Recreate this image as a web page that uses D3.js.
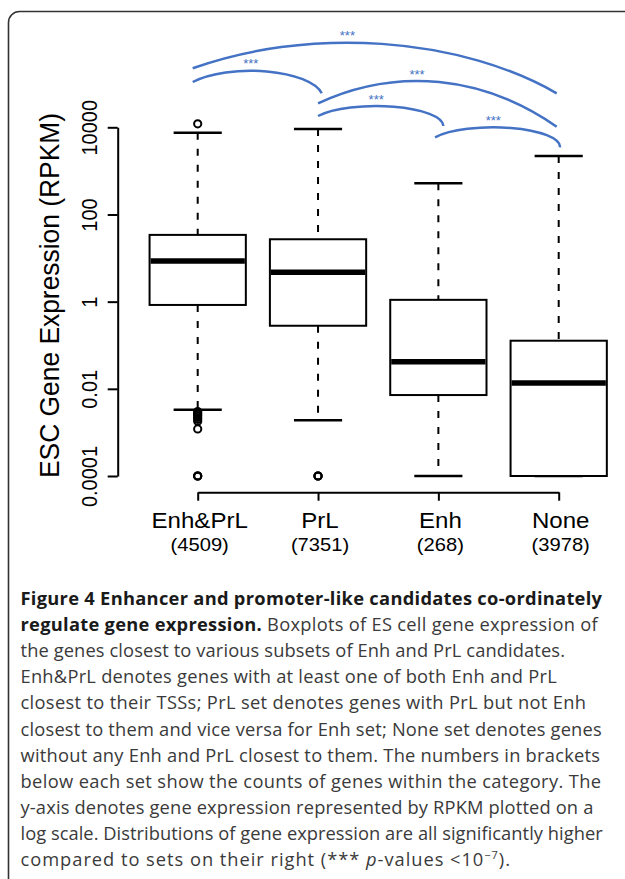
<!DOCTYPE html>
<meta charset="utf-8">
<title>Figure 4</title>
<style>

body {
  margin: 0;
  background: #fff;
}

svg {
  display: block;
}

.axis path,
.axis line {
  stroke: #000;
  stroke-width: 2px;
}

.whisker {
  stroke: #000;
  stroke-width: 2px;
  stroke-dasharray: 7,9;
}

.cap {
  stroke: #000;
  stroke-width: 2.5px;
}

.box {
  fill: #fff;
  stroke: #000;
  stroke-width: 2px;
}

.median {
  stroke: #000;
  stroke-width: 5.5px;
}

.outlier {
  fill: none;
  stroke: #000;
  stroke-width: 2px;
}

.bracket {
  fill: none;
  stroke: #4472c4;
  stroke-width: 2.5px;
}

.stars {
  fill: #4472c4;
  font: 13px "Liberation Sans", Arial, sans-serif;
  text-anchor: middle;
}

.caption {
  font-family: "Open Sans", sans-serif;
  font-size: 18.3px;
  fill: #3a3a3a;
}

.caption .bold {
  font-weight: bold;
  fill: #1a1a1a;
}

</style>
<svg width="625" height="879"></svg>
<script src="https://d3js.org/d3.v7.min.js"></script>
<script>

// gene sets and box statistics (RPKM)
var categories = ["Enh&PrL", "PrL", "Enh", "None"];
var geneCounts = [4509, 7351, 268, 3978];
var whiskerHigh = [7500, 9100, 520, 2200];
var upperQuartile = [34, 27, 1.1, 0.127];
var medians = [8.6, 4.7, 0.042, 0.0136];
var lowerQuartile = [0.84, 0.28, 0.0072, 0.0001];
var whiskerLow = [0.0033, 0.0019, 0.0001, 0.0001];
var outliers = [
  [12000, 0.0030, 0.0028, 0.0026, 0.0024, 0.0022, 0.0020, 0.0018, 0.0012, 0.0001, 0.0001, 0.0001],
  [0.0001, 0.0001, 0.0001],
  [],
  []
];

var yTicks = [0.0001, 0.01, 1, 100, 10000];
var yTickLabels = ["0.0001", "0.01", "1", "100", "10000"];
var yTitle = "ESC Gene Expression (RPKM)";

// significance brackets between sets
var comparisons = [["Enh&PrL", "None"], ["Enh&PrL", "PrL"], ["PrL", "None"], ["PrL", "Enh"], ["Enh", "None"]];
var sigLabels = ["***", "***", "***", "***", "***"];

var captionLines = [
  [["Figure 4 Enhancer and promoter-like candidates co-ordinately", "bold"]],
  [["regulate gene expression.", "bold"], [" Boxplots of ES cell gene expression of"]],
  [["the genes closest to various subsets of Enh and PrL candidates."]],
  [["Enh&PrL denotes genes with at least one of both Enh and PrL"]],
  [["closest to their TSSs; PrL set denotes genes with PrL but not Enh"]],
  [["closest to them and vice versa for Enh set; None set denotes genes"]],
  [["without any Enh and PrL closest to them. The numbers in brackets"]],
  [["below each set show the counts of genes within the category. The"]],
  [["y-axis denotes gene expression represented by RPKM plotted on a"]],
  [["log scale. Distributions of gene expression are all significantly higher"]],
  [["compared to sets on their right (*** "], ["p", "italic"], ["-values <10"], ["\u22127", "sup"], [").", "after-sup"]]
];

var svg = d3.select("svg");

// frame round figure (runs off the right and bottom of the page)
svg.append("rect")
  .attr("x", 8.5).attr("y", 11.5)
  .attr("width", 700).attr("height", 1000)
  .attr("rx", 11)
  .attr("fill", "none")
  .attr("stroke", "#333")
  .attr("stroke-width", 1.6);

var x = d3.scalePoint().domain(categories).range([197.7, 558.7]);
var y = d3.scaleLog().domain([1e-4, 1e4]).range([476, 127.3]);
var boxW = x.step() * 0.8;

var stats = categories.map(function(c, i) {
  return {name: c, hi: whiskerHigh[i], q3: upperQuartile[i], med: medians[i],
          q1: lowerQuartile[i], lo: whiskerLow[i], out: outliers[i]};
});

// y axis
var yAxis = svg.append("g")
  .attr("class", "axis")
  .attr("transform", "translate(117.7,0)")
  .call(d3.axisLeft(y).tickValues(yTicks)
    .tickFormat(function(d, i) { return yTickLabels[i]; })
    .tickSize(10).tickSizeOuter(0));

yAxis.selectAll("text")
  .attr("transform", "translate(-20.7,0) scale(1.1,1) rotate(-90)")
  .attr("x", 0).attr("y", 0).attr("dy", 0)
  .style("text-anchor", "middle")
  .style("font", "20px 'Liberation Sans', Arial, sans-serif")
  .attr("fill", "#000");

svg.append("text")
  .attr("transform", "translate(58.5,295.5) scale(1.05,1) rotate(-90)")
  .style("text-anchor", "middle")
  .style("font", "26.4px 'Liberation Sans', Arial, sans-serif")
  .text(yTitle);

// x axis
var xAxis = svg.append("g")
  .attr("class", "axis")
  .attr("transform", "translate(0,492.3)")
  .call(d3.axisBottom(x).tickSize(8.4).tickSizeOuter(0).tickFormat(""));

var xl = svg.selectAll(".xlabel")
  .data(stats)
  .enter().append("g")
  .attr("class", "xlabel")
  .attr("transform", function(d) { return "translate(" + (x(d.name) + 2) + ",0) scale(1.12,1)"; });

xl.append("text")
  .attr("y", 527.7)
  .style("text-anchor", "middle")
  .style("font", "21.5px 'Liberation Sans', Arial, sans-serif")
  .text(function(d) { return d.name; });

xl.append("text")
  .attr("y", 551)
  .style("text-anchor", "middle")
  .style("font", "18px 'Liberation Sans', Arial, sans-serif")
  .text(function(d, i) { return "(" + geneCounts[i] + ")"; });

// boxes
var g = svg.selectAll(".set")
  .data(stats)
  .enter().append("g")
  .attr("class", "set")
  .attr("transform", function(d) { return "translate(" + x(d.name) + ",0)"; });

g.append("line")
  .attr("class", "whisker")
  .attr("y1", function(d) { return y(d.hi); })
  .attr("y2", function(d) { return y(d.q3); });

g.append("line")
  .attr("class", "whisker")
  .attr("y1", function(d) { return y(d.q1); })
  .attr("y2", function(d) { return y(d.lo); });

g.append("line")
  .attr("class", "cap")
  .attr("x1", -boxW / 4).attr("x2", boxW / 4)
  .attr("y1", function(d) { return y(d.hi); })
  .attr("y2", function(d) { return y(d.hi); });

g.append("line")
  .attr("class", "cap")
  .attr("x1", -boxW / 4).attr("x2", boxW / 4)
  .attr("y1", function(d) { return y(d.lo); })
  .attr("y2", function(d) { return y(d.lo); });

g.append("rect")
  .attr("class", "box")
  .attr("x", -boxW / 2)
  .attr("width", boxW)
  .attr("y", function(d) { return y(d.q3); })
  .attr("height", function(d) { return y(d.q1) - y(d.q3); });

g.append("line")
  .attr("class", "median")
  .attr("x1", -boxW / 2 + 1).attr("x2", boxW / 2 - 1)
  .attr("y1", function(d) { return y(d.med); })
  .attr("y2", function(d) { return y(d.med); });

g.selectAll(".outlier")
  .data(function(d) { return d.out; })
  .enter().append("circle")
  .attr("class", "outlier")
  .attr("r", 3.6)
  .attr("cy", function(v) { return y(v); });

// brackets: end offsets from set centres, end heights, peak height and peak position along span
var bracketLayout = [
  {dx1: -5, dx2: -2, y1: 68.3, y2: 93.3, top: 42.7, at: 0.425},
  {dx1: -5, dx2: 3.7, y1: 82, y2: 93.3, top: 70.7, at: 0.45},
  {dx1: 0, dx2: -2, y1: 103.3, y2: 126.7, top: 81, at: 0.415},
  {dx1: 0, dx2: 5, y1: 116, y2: 126, top: 106, at: 0.464},
  {dx1: -3.3, dx2: 1.3, y1: 137.3, y2: 147.3, top: 127.3, at: 0.466}
];

var brackets = comparisons.map(function(c, i) {
  var L = bracketLayout[i];
  var x1 = x(c[0]) + L.dx1, x2 = x(c[1]) + L.dx2;
  var cx = x1 + (x2 - x1) * L.at;
  // ellipse with its top at (cx, top) passing through both ends
  var u1 = (x1 - cx) * (x1 - cx), u2 = (x2 - cx) * (x2 - cx);
  var d1 = L.y1 - L.top, d2 = L.y2 - L.top;
  var p = 2 * (u1 * d2 - u2 * d1) / (u1 * d2 * d2 - u2 * d1 * d1);
  var ry = 1 / p;
  var rx = Math.sqrt(u1 / (2 * d1 * p - d1 * d1 * p * p));
  return {x1: x1, y1: L.y1, x2: x2, y2: L.y2, rx: rx, ry: ry, cx: cx, top: L.top, label: sigLabels[i]};
});

svg.selectAll(".bracket")
  .data(brackets)
  .enter().append("path")
  .attr("class", "bracket")
  .attr("d", function(b) {
    return "M" + b.x1 + "," + b.y1 + "A" + b.rx + "," + b.ry + " 0 0 1 " + b.x2 + "," + b.y2;
  });

svg.selectAll(".stars")
  .data(brackets)
  .enter().append("text")
  .attr("class", "stars")
  .attr("x", function(b) { return b.cx; })
  .attr("y", function(b) { return b.top - 2.5; })
  .text(function(b) { return b.label; });

// caption, each line fitted to the width it has in the printed figure
var lineRight = [602, 597.7, 565, 556.7, 586, 601.7, 600, 601, 593.3, 602.7, 510];

captionLines.forEach(function(line, i) {
  var t = svg.append("text")
    .attr("class", "caption")
    .attr("x", 20.5)
    .attr("y", 605 + i * 26.1)
    .attr("textLength", lineRight[i] - 20.5)
    .attr("lengthAdjust", "spacing");
  line.forEach(function(seg) {
    var s = t.append("tspan").text(seg[0]);
    if (seg[1] == "bold") s.attr("class", "bold");
    if (seg[1] == "italic") s.style("font-style", "italic");
    if (seg[1] == "sup") s.attr("dy", -7).style("font-size", "11px");
    if (seg[1] == "after-sup") s.attr("dy", 7);
  });
});

</script>
